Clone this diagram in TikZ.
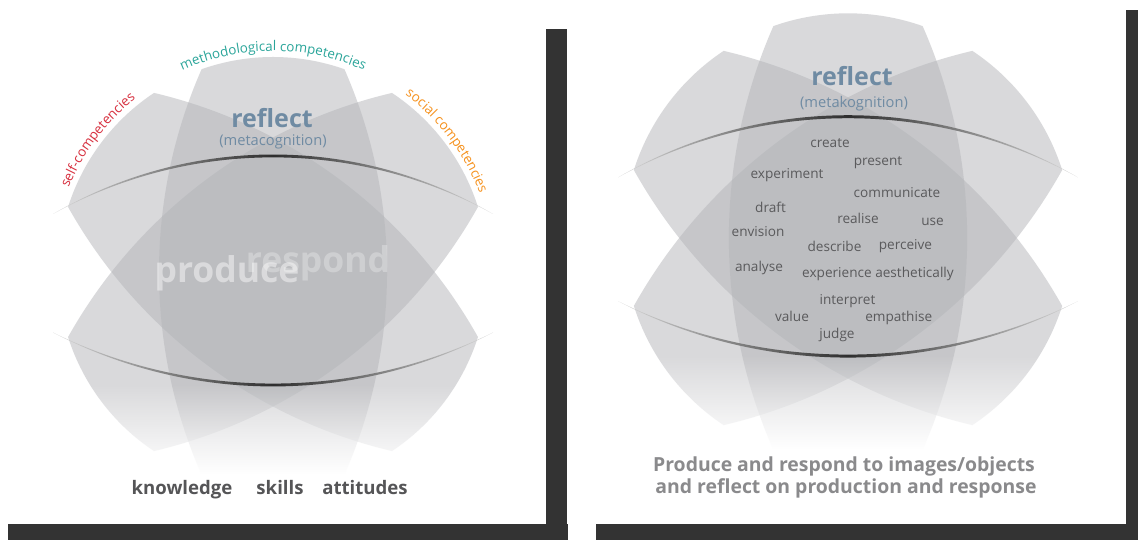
\documentclass[tikz,border=0pt]{standalone}
\usepackage{fontspec}
\setmainfont{Open Sans}
\usetikzlibrary{decorations.text,fadings}

\definecolor{petalgray}{RGB}{180,181,185}
\definecolor{shadowgray}{RGB}{51,51,51}
\definecolor{reflectblue}{RGB}{111,139,163}
\definecolor{wordgray}{RGB}{90,90,92}
\definecolor{kswgray}{RGB}{85,85,87}
\definecolor{captiongray}{RGB}{138,138,140}
\definecolor{selfred}{RGB}{215,48,63}
\definecolor{methodteal}{RGB}{42,165,154}
\definecolor{socialorange}{RGB}{246,146,30}

\tikzfading[name=fadedown, top color=transparent!100, bottom color=transparent!0]

\begin{document}
\begin{tikzpicture}[x=1pt, y=1pt,
  petalfill/.style={fill=petalgray, fill opacity=0.5},
  eyeline/.style={left color=black!15, right color=black!15, middle color=black!82},
  shadowbar/.style={fill=shadowgray},
  reflectword/.style={text=reflectblue, font=\bfseries\fontsize{25}{28}\selectfont, anchor=base},
  metaword/.style={text=reflectblue, font=\fontsize{14.7}{16}\selectfont, anchor=base},
  bigword/.style={text=white, font=\bfseries\fontsize{35.5}{40}\selectfont, anchor=base},
  kswword/.style={text=kswgray, font=\bfseries\fontsize{18.6}{22}\selectfont, anchor=base},
  verbword/.style={text=wordgray, font=\fontsize{13.6}{16}\selectfont, anchor=base},
  captionline/.style={text=captiongray, font=\bfseries\fontsize{19.4}{22}\selectfont, anchor=base},
  arclabel/.style={decorate, decoration={text along path, text align=center}}
]
\useasboundingbox (0,0) rectangle (1138,540);
\fill[white] (0,0) rectangle (1138,540);
\newcommand\labelsize{\fontsize{13.4}{16}\selectfont}
%petal, axis up, outer circle r=215, sides r=504
%     ___
%    (   )
%    |   |
%    (___)
%
\newcommand\petal{(-71.4,202.8)
  arc[start angle=109.4, end angle=70.6, radius=215] %top
  arc[start angle=23.73, end angle=-23.73, radius=504] %right side
  arc[start angle=-70.6, end angle=-109.4, radius=215] %bottom
  arc[start angle=203.73, end angle=156.27, radius=504] %left side
  -- cycle}
%tapered eye lines
\newcommand\eyetop{(-220,58) .. controls (-83.5,137.3) and (83.5,137.3) .. (220,58)
  .. controls (83.5,133.5) and (-83.5,133.5) .. (-220,58) -- cycle}
\newcommand\eyebottom{(-220,-60.5) .. controls (-81.7,-132.4) and (81.7,-132.4) .. (220,-60.5)
  .. controls (81.7,-128.6) and (-81.7,-128.6) .. (-220,-60.5) -- cycle}
\newcommand\flower{
  \fill[petalfill, rotate=53] \petal;
  \fill[petalfill, rotate=-53] \petal;
  \fill[petalfill] \petal;
  \fill[white, path fading=fadedown] (-250,-112) rectangle (250,-202); %fade out below
  \fill[white] (-250,-202) rectangle (250,-226);
  \shade[eyeline] \eyetop;
  \shade[eyeline] \eyebottom;
}
%---------------------------------------------------------
%left panel
\begin{scope}[shift={(273,268)}]
\flower
\end{scope}
\path[arclabel, decoration={text={|\labelsize\color{methodteal}|methodological competencies}}]
  ([shift={(130:221)}]273,268) arc[start angle=130, end angle=50, radius=221];
\path[arclabel, decoration={text={|\labelsize\color{selfred}|self-competencies}}]
  ([shift={(160:221)}]273,268) arc[start angle=160, end angle=126, radius=221];
\path[arclabel, decoration={text={|\labelsize\color{socialorange}|social competencies}}]
  ([shift={(56:221)}]273,268) arc[start angle=56, end angle=18, radius=221];
\node[reflectword] (reflectL) at (272,412) {reflect};
\node[metaword] (metaL) at (273,394) {(metacognition)};
\node[bigword, text opacity=0.28] (respondL) at (318,267) {respond};
\node[bigword, text opacity=0.45] (produceL) at (227,257) {produce};
\node[kswword] (knowledge) at (182,45) {knowledge};
\node[kswword] (skills) at (280,45) {skills};
\node[kswword] (attitudes) at (365,45) {attitudes};
%---------------------------------------------------------
%right panel, same flower a bit bigger
\begin{scope}[shift={(848,302)}, scale=1.045]
\flower
\end{scope}
\node[reflectword] (reflectR) at (852,454) {reflect};
\node[metaword] (metaR) at (854,432) {(metakognition)};
\node[verbword] (create) at (830,392.5) {create};
\node[verbword] (present) at (878,374.5) {present};
\node[verbword] (experiment) at (787,361.5) {experiment};
\node[verbword] (communicate) at (897,342.5) {communicate};
\node[verbword] (draft) at (770.5,327) {draft};
\node[verbword] (realise) at (858,316) {realise};
\node[verbword] (use) at (932.5,314.5) {use};
\node[verbword] (envision) at (758,303) {envision};
\node[verbword] (describe) at (834.5,288) {describe};
\node[verbword] (perceive) at (905.5,290.5) {perceive};
\node[verbword] (analyse) at (759,268) {analyse};
\node[verbword] (aesthetic) at (878,262) {experience aesthetically};
\node[verbword] (interpret) at (847.5,235) {interpret};
\node[verbword] (value) at (792,218.5) {value};
\node[verbword] (empathise) at (898.7,218) {empathise};
\node[verbword] (judge) at (837,201) {judge};
\node[captionline] (captionA) at (844,68) {Produce and respond to images/objects};
\node[captionline] (captionB) at (846,46) {and reflect on production and response};
%---------------------------------------------------------
%drop shadows of the two cards
\fill[shadowbar] (546,16) rectangle (567,511);
\fill[shadowbar] (8,0) rectangle (568,16);
\fill[shadowbar] (1126,16) rectangle (1138,530);
\fill[shadowbar] (596,0) rectangle (1138,16);
\end{tikzpicture}
\end{document}
